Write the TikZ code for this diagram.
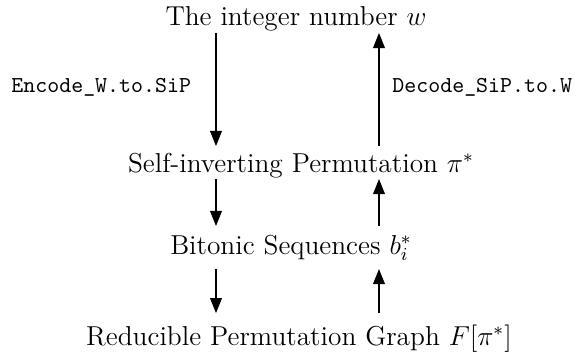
\documentclass[tikz,border=0pt]{standalone}
\usetikzlibrary{arrows.meta}
\begin{document}
\begin{tikzpicture}[x=0.4386pt,y=-0.4386pt,
  stage/.style={anchor=base,inner sep=0pt,font=\large},
  fname/.style={anchor=base west,inner sep=0pt,font=\ttfamily},
  arr/.style={line width=0.45pt,-{Triangle[length=6.6pt,width=5.2pt]}}]
\useasboundingbox (0,0) rectangle (577,360);
% stages of the encoding / decoding chain
\node[stage] (top)  at (296,25)  {The integer number $w$};
\node[stage] (self) at (301,172) {Self-inverting Permutation $\pi^*$};
\node[stage] (bit)  at (291,254) {Bitonic Sequences $b_i^*$};
\node[stage] (red)  at (299,345) {Reducible Permutation Graph $F[\pi^*]$};
% algorithm names
\node[fname] (enc) at (11,92)  {Encode\_W.to.SiP};
\node[fname] (dec) at (392,92) {Decode\_SiP.to.W};
% columns of the downward and upward arrows
\coordinate (L) at (216,0);
\coordinate (R) at (379,0);
% encoding direction
\draw[arr,shorten <=3.5pt, shorten >=11.4pt] (top.base -| L)  -- (self.base -| L);
\draw[arr,shorten <=3.1pt, shorten >=12.3pt] (self.base -| L) -- (bit.base -| L);
\draw[arr,shorten <=6.6pt, shorten >=14pt]   (bit.base -| L)  -- (red.base -| L);
% decoding direction
\draw[arr,shorten >=3.5pt, shorten <=11.4pt] (self.base -| R) -- (top.base -| R);
\draw[arr,shorten >=3.1pt, shorten <=12.3pt] (bit.base -| R)  -- (self.base -| R);
\draw[arr,shorten >=6.6pt, shorten <=14pt]   (red.base -| R)  -- (bit.base -| R);
\end{tikzpicture}
\end{document}
